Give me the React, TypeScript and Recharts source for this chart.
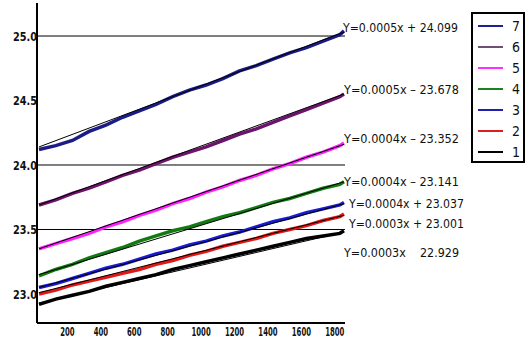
import { LineChart, Line, XAxis, YAxis, ReferenceLine, LabelList } from "recharts";

// x positions of the samples (same for every run)
const xs = [30, 130, 230, 330, 430, 530, 630, 730, 830, 930, 1030, 1130, 1230, 1330, 1430, 1530, 1630, 1730, 1830, 1855];

const run1 = [22.92, 22.96, 22.99, 23.02, 23.06, 23.09, 23.12, 23.15, 23.19, 23.22, 23.25, 23.28, 23.31, 23.34, 23.37, 23.40, 23.43, 23.45, 23.47, 23.49];
const run2 = [23.0, 23.03, 23.07, 23.1, 23.13, 23.16, 23.19, 23.23, 23.26, 23.3, 23.33, 23.37, 23.4, 23.43, 23.47, 23.5, 23.53, 23.57, 23.6, 23.62];
const run3 = [23.05, 23.08, 23.12, 23.16, 23.2, 23.23, 23.27, 23.31, 23.34, 23.38, 23.41, 23.45, 23.48, 23.52, 23.56, 23.59, 23.63, 23.66, 23.69, 23.71];
const run4 = [23.14, 23.19, 23.23, 23.28, 23.32, 23.36, 23.41, 23.45, 23.49, 23.52, 23.56, 23.6, 23.63, 23.67, 23.71, 23.74, 23.78, 23.82, 23.85, 23.87];
const run5 = [23.35, 23.39, 23.43, 23.47, 23.52, 23.56, 23.61, 23.65, 23.7, 23.74, 23.79, 23.83, 23.88, 23.92, 23.97, 24.01, 24.06, 24.1, 24.15, 24.17];
const run6 = [23.69, 23.73, 23.78, 23.82, 23.87, 23.92, 23.96, 24.01, 24.06, 24.1, 24.14, 24.19, 24.24, 24.28, 24.33, 24.38, 24.43, 24.48, 24.53, 24.55];
const run7 = [24.12, 24.15, 24.19, 24.26, 24.31, 24.37, 24.42, 24.47, 24.53, 24.58, 24.62, 24.67, 24.73, 24.77, 24.82, 24.87, 24.91, 24.96, 25.01, 25.04];

// fitted trend lines: value at first and last x
const trendX = [30, 1855];
const trend1 = [22.93, 23.48];
const trend2 = [23.01, 23.61];
const trend3 = [23.05, 23.7];
const trend4 = [23.15, 23.87];
const trend5 = [23.35, 24.16];
const trend6 = [23.69, 24.55];
const trend7 = [24.14, 25.03];

const names = ["1", "2", "3", "4", "5", "6", "7"];
const equations = [
  "Y=0.0003x\u00a0\u00a0\u00a0 22.929",
  "Y=0.0003x + 23.001",
  "Y=0.0004x + 23.037",
  "Y=0.0004x – 23.141",
  "Y=0.0004x – 23.352",
  "Y=0.0005x – 23.678",
  "Y=0.0005x + 24.099",
];

const xTicks = [200, 400, 600, 800, 1000, 1200, 1400, 1600, 1800];
const yTicks = [23, 23.5, 24, 24.5, 25];
const gridLines = [23.5, 24, 25];

const runs = [run1, run2, run3, run4, run5, run6, run7];
const trends = [trend1, trend2, trend3, trend4, trend5, trend6, trend7];

const colors = ["#000000", "#e01818", "#1a1ad0", "#127a12", "#ff20ff", "#6c136c", "#1c1c86"];
const legendColors = ["#000000", "#d82020", "#2020b0", "#208020", "#ff30ff", "#705070", "#202090"];
// label nudges relative to each line end
const labelDx = [0, 5, 5, 0, 0, 0, -1];
const labelDy = [22, 10, 1, 0, -4, -4, -3];

const rows = xs.map((x, i) => {
  const r: Record<string, number> = { x };
  runs.forEach((s, k) => (r["s" + (k + 1)] = s[i]));
  return r;
});

const last = xs.length - 1;
const cond = "'DejaVu Sans Condensed', sans-serif";

function eqLabel(k: number) {
  return (props: any) => {
    if (props.index !== last) return null;
    return (
      <text
        x={props.x + labelDx[k]}
        y={props.y + labelDy[k]}
        dy="0.35em"
        fontSize={12}
        fontFamily={cond}
        fill="#111"
        textLength={115}
        lengthAdjust="spacingAndGlyphs"
        xmlSpace="preserve"
      >
        {equations[k]}
      </text>
    );
  };
}

function XTick(props: any) {
  const s = String(props.payload.value);
  return (
    <text
      x={props.x}
      y={props.y + 2}
      dy="0.75em"
      textAnchor="middle"
      fontSize={12.5}
      fontWeight={700}
      fontFamily={cond}
      fill="#111"
      textLength={s.length * 4.8}
      lengthAdjust="spacingAndGlyphs"
    >
      {s}
    </text>
  );
}

function YTick(props: any) {
  const s = Number(props.payload.value).toFixed(1);
  return (
    <text
      x={props.x + 1}
      y={props.y}
      dy="0.36em"
      textAnchor="end"
      fontSize={13}
      fontWeight={700}
      fontFamily={cond}
      fill="#111"
      textLength={24}
      lengthAdjust="spacingAndGlyphs"
    >
      {s}
    </text>
  );
}

export default function App() {
  return (
    <div style={{ position: "absolute", left: 0, top: 0, width: 526, height: 341, background: "#fff", overflow: "hidden" }}>
      <LineChart width={526} height={341} data={rows} margin={{ top: 3, right: 181, left: 0, bottom: 0 }}>
        <XAxis
          dataKey="x"
          type="number"
          domain={[18, 1861]}
          ticks={xTicks}
          interval={0}
          height={18}
          tickLine={false}
          tickSize={0}
          axisLine={{ stroke: "#000", strokeWidth: 2 }}
          tick={<XTick />}
        />
        <YAxis
          type="number"
          domain={[22.775, 25.256]}
          allowDataOverflow
          ticks={yTicks}
          width={37}
          tickLine={false}
          tickSize={0}
          tickMargin={1}
          axisLine={{ stroke: "#000", strokeWidth: 2 }}
          tick={<YTick />}
        />
        {gridLines.map((g) => (
          <ReferenceLine key={g} y={g} stroke="#000" strokeWidth={1} />
        ))}
        {runs.map((_, k) => (
          <Line
            key={"s" + k}
            dataKey={"s" + (k + 1)}
            stroke={colors[k]}
            strokeWidth={3.5}
            dot={false}
            type="linear"
            isAnimationActive={false}
          >
            <LabelList dataKey={"s" + (k + 1)} content={eqLabel(k)} />
          </Line>
        ))}
        {trends.map((t, k) => (
          <Line
            key={"t" + k}
            data={trendX.map((x, i) => ({ x, v: t[i] }))}
            dataKey="v"
            stroke="#000"
            strokeWidth={1}
            dot={false}
            type="linear"
            isAnimationActive={false}
          />
        ))}
      </LineChart>
      <div
        style={{
          position: "absolute",
          left: 471,
          top: 12,
          width: 50,
          height: 147,
          border: "2px solid #000",
          background: "#fff",
        }}
      >
        {names
          .map((n, k) => ({ n, k }))
          .reverse()
          .map(({ n, k }, i) => (
            <div key={n} style={{ position: "absolute", left: 5, top: 5 + i * 21, height: 14, display: "flex", alignItems: "center" }}>
              <div style={{ width: 25, height: 2, background: legendColors[k] }} />
              <span style={{ marginLeft: 9, fontSize: 14, fontFamily: cond, color: "#111" }}>{n}</span>
            </div>
          ))}
      </div>
    </div>
  );
}
